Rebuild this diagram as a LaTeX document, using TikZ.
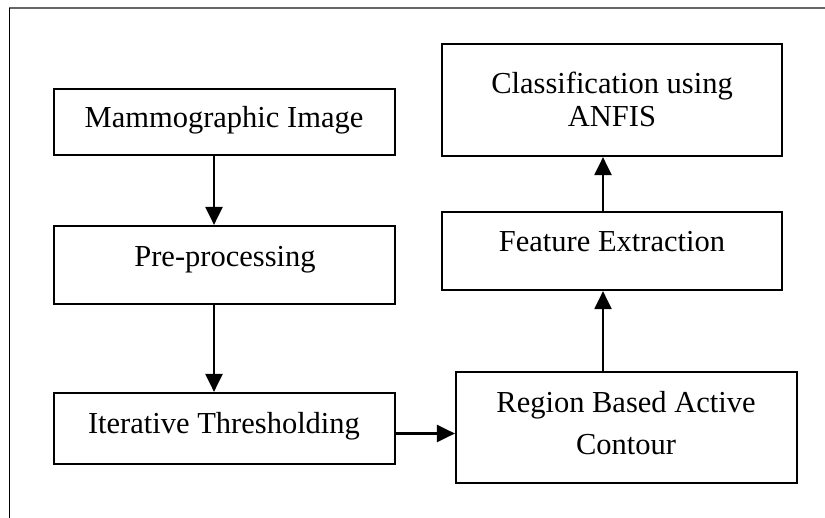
\documentclass[tikz,border=0pt]{standalone}
\usepackage{fontspec}
\setmainfont{Liberation Serif}
\usetikzlibrary{arrows.meta,calc}
\begin{document}
\begin{tikzpicture}[x=1pt,y=-1pt,
  box/.style={draw=black, line width=2.2pt, inner sep=0pt},
  txt/.style={font=\fontsize{30.5}{34}\selectfont, inner sep=0pt, anchor=base, align=center},
  arr/.style={draw=black, line width=2.2pt, -{Triangle[length=18pt,width=17pt]}}]
\useasboundingbox (0,0) rectangle (825,518);
% frame (top and left edges only)
\draw[black!60, line width=2.2pt] (9,8) -- (825,8);
\draw[black, line width=1.2pt] (9.5,8) -- (9.5,518);
% boxes
\node[box, minimum width=341pt, minimum height=66pt]  (mammo)  at (224.5,122) {};
\node[box, minimum width=341pt, minimum height=78pt]  (pre)    at (224.5,265) {};
\node[box, minimum width=341pt, minimum height=71pt]  (iter)   at (224.5,428.5) {};
\node[box, minimum width=341pt, minimum height=111pt] (region) at (626.5,427.5) {};
\node[box, minimum width=340pt, minimum height=78pt]  (feat)   at (612,251) {};
\node[box, minimum width=340pt, minimum height=112pt] (class)  at (612,100) {};
% texts
\node[txt] (tmammo)  at (224,128) {Mammographic Image};
\node[txt] (tpre)    at (225,267) {Pre-processing};
\node[txt] (titer)   at (224,434) {Iterative Thresholding};
\node[txt] (tfeat)   at (612,251.5) {Feature Extraction};
\node[txt, font=\fontsize{30.5}{33}\selectfont] (tclass) at (612,127) {Classification using\\ANFIS};
\node[txt, font=\fontsize{30.5}{42}\selectfont] (tregion) at (626,455) {Region Based Active\\Contour};
% connectors
\coordinate (lx) at (214,0);
\coordinate (rx) at (603,0);
\coordinate (hy) at (0,433.5);
\draw[arr] (mammo.south -| lx) -- (pre.north -| lx);
\draw[arr] (pre.south -| lx) -- (iter.north -| lx);
\draw[arr] (iter.east |- hy) -- (region.west |- hy);
\draw[arr] (region.north -| rx) -- (feat.south -| rx);
\draw[arr] (feat.north -| rx) -- (class.south -| rx);
\end{tikzpicture}
\end{document}
